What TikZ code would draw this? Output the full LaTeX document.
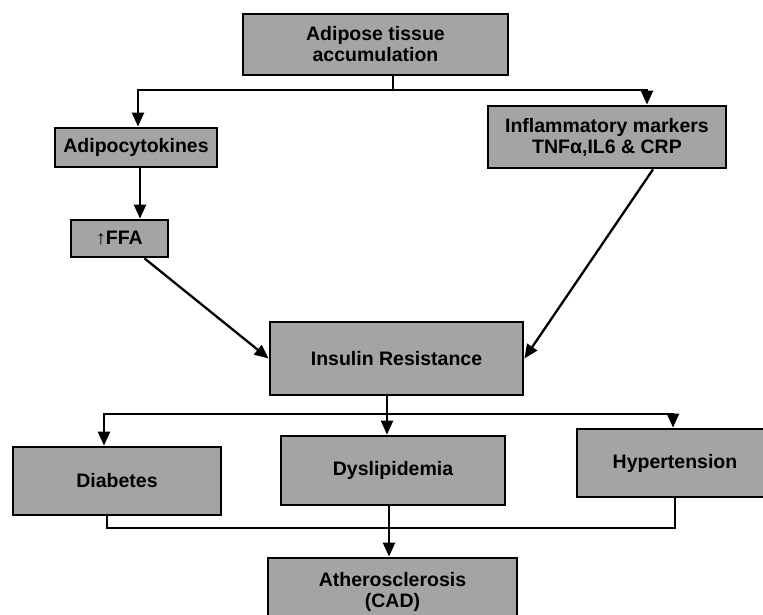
\documentclass[tikz,border=0pt]{standalone}
\usepackage{fontspec}
\setmainfont{Liberation Sans}
\usetikzlibrary{arrows.meta,calc}
\definecolor{boxgray}{HTML}{A4A4A4}
\begin{document}
\begin{tikzpicture}[x=1pt,y=-1pt,
  box/.style={draw=black,line width=2.8pt,fill=boxgray,inner sep=0pt,align=center,
    font=\fontsize{19.5}{21}\selectfont\bfseries},
  arr/.style={line width=2.3pt,-{Triangle[length=14pt,width=12pt]}},
  ln/.style={line width=2.3pt}]
\useasboundingbox (0,0) rectangle (763,615);
\clip (0,0) rectangle (763,615);
\fill[white] (0,0) rectangle (763,615);
% nodes
\node[box,minimum width=265pt,minimum height=61pt] (adipose) at (375.5,44.5) {Adipose tissue\\accumulation};
\node[box,minimum width=162pt,minimum height=39pt] (adipo) at (136,147.5) {Adipocytokines};
\node[box,minimum width=97pt,minimum height=37pt] (ffa) at (119.5,238.5) {↑FFA};
\node[box,minimum width=238pt,minimum height=62pt] (inflam) at (607,137) {Inflammatory markers\\TNFα,IL6 \& CRP};
\node[box,minimum width=253pt,minimum height=73pt] (ir) at (396.5,358.5) {Insulin Resistance};
\node[box,minimum width=208pt,minimum height=68pt] (diab) at (117,481) {Diabetes};
\node[box,minimum width=224pt,minimum height=69pt] (dysl) at (393,470.5) {Dyslipidemia};
\node[box,minimum width=196pt,minimum height=68pt] (hyper) at (675,463) {Hypertension};
\node[box,minimum width=249pt,minimum height=68pt] (ath) at (392.5,592) {Atherosclerosis\\(CAD)};
% top bus
\coordinate (t0) at (393,90);
\coordinate (tL) at (138,90);
\coordinate (tR) at (647,90);
\draw[ln] (adipose.south -| t0) -- (t0);
\draw[ln,line cap=rect] (tL) -- (tR);
\draw[arr] (tL) -- (adipo.north -| tL);
\draw[arr] (tR) -- (inflam.north -| tR);
% adipocytokines to FFA
\coordinate (af) at (140,0);
\draw[arr] (adipo.south -| af) -- (ffa.north -| af);
% to insulin resistance
\draw[arr] ($(ffa.south)+(25,0)$) -- (ir.west);
\draw[arr] ($(inflam.south)+(46,0)$) -- (ir.east);
% middle bus
\coordinate (m0) at (387,414);
\coordinate (mL) at (104,414);
\coordinate (mR) at (673,414);
\draw[ln] (ir.south -| m0) -- (m0);
\draw[ln,line cap=rect] (mL) -- (mR);
\draw[arr] (mL) -- (diab.north -| mL);
\draw[arr] (m0) -- (dysl.north -| m0);
\draw[arr] (mR) -- (hyper.north -| mR);
% lower bus
\coordinate (bL) at (107,528);
\coordinate (bR) at (675,528);
\coordinate (b0) at (389,528);
\draw[ln,line join=miter] (diab.south -| bL) -- (bL) -- (bR) -- (hyper.south -| bR);
\draw[arr] (dysl.south -| b0) -- (ath.north -| b0);
\end{tikzpicture}
\end{document}
